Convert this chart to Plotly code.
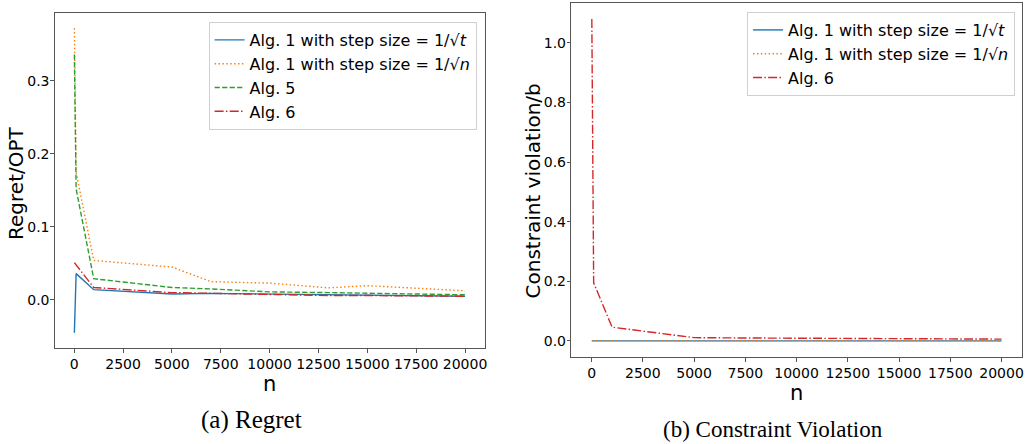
import plotly.graph_objects as go

# ---------------- data ----------------
n_vals = [10, 100, 1000, 5000, 7000, 10000, 13000, 15000, 20000]

# (a) Regret / OPT
regret_alg1_t = [-0.045, 0.036, 0.014, 0.008, 0.009, 0.008, 0.007, 0.006, 0.005]
regret_alg1_n = [0.372, 0.175, 0.054, 0.045, 0.025, 0.023, 0.0165, 0.0195, 0.0125]
regret_alg5 = [0.336, 0.152, 0.029, 0.017, 0.015, 0.011, 0.010, 0.009, 0.007]
regret_alg6 = [0.051, 0.048, 0.017, 0.010, 0.009, 0.007, 0.006, 0.006, 0.005]

# (b) Constraint violation / b
viol_alg1_t = [0, 0, 0, 0, 0, 0, 0, 0, 0]
viol_alg1_n = [0, 0, 0, 0, 0, 0, 0, 0, 0]
viol_alg6 = [1.08, 0.195, 0.046, 0.011, 0.010, 0.009, 0.008, 0.007, 0.006]

label_t = "Alg. 1 with step size = 1/√<i>t</i>"
label_n = "Alg. 1 with step size = 1/√<i>n</i>"
label_5 = "Alg. 5"
label_6 = "Alg. 6"
x_title = "n"
y_title_a = "Regret/OPT"
y_title_b = "Constraint violation/b"
caption_a = "(a) Regret"
caption_b = "(b) Constraint Violation"

# ---------------- style ----------------
BLUE, ORANGE, GREEN, RED = "#1f77b4", "#ff7f0e", "#2ca02c", "#d62728"
LW = 1.4
DOT = "1.5px,2.4px"
DASH = "5.2px,2.3px"
DASHDOT = "9px,2.3px,1.5px,2.3px"
W, H = 1031, 444


def rng(vals):
    mn, mx = min(vals), max(vals)
    pad = (mx - mn) * 0.05
    return [mn - pad, mx + pad]


fig = go.Figure()

left_series = [
    (regret_alg1_t, label_t, BLUE, "solid"),
    (regret_alg1_n, label_n, ORANGE, DOT),
    (regret_alg5, label_5, GREEN, DASH),
    (regret_alg6, label_6, RED, DASHDOT),
]
for ys, name, col, dash in left_series:
    fig.add_trace(go.Scatter(x=n_vals, y=ys, mode="lines", name=name,
                             line=dict(color=col, width=LW, dash=dash),
                             xaxis="x", yaxis="y", legend="legend"))

right_series = [
    (viol_alg1_t, label_t, BLUE, "solid"),
    (viol_alg1_n, label_n, ORANGE, DOT),
    (viol_alg6, label_6, RED, DASHDOT),
]
for ys, name, col, dash in right_series:
    fig.add_trace(go.Scatter(x=n_vals, y=ys, mode="lines", name=name,
                             line=dict(color=col, width=LW, dash=dash),
                             xaxis="x2", yaxis="y2", legend="legend2"))

all_left = regret_alg1_t + regret_alg1_n + regret_alg5 + regret_alg6
all_right = viol_alg1_t + viol_alg1_n + viol_alg6

tickfont = dict(family="DejaVu Sans", size=14, color="#000")
titlefont = dict(family="DejaVu Sans", size=21, color="#000")
ytitlefont = dict(family="DejaVu Sans", size=20, color="#000")

axis_common = dict(showline=True, mirror=True, linecolor="#555", linewidth=1,
                   ticks="outside", ticklen=3.5, tickcolor="#555", tickwidth=1,
                   showgrid=False, zeroline=False, tickfont=tickfont)

xr = rng(n_vals)

fig.update_layout(
    width=W, height=H,
    margin=dict(l=0, r=0, t=0, b=0),
    paper_bgcolor="white", plot_bgcolor="white",
    font=dict(family="DejaVu Sans", color="#000"),
    xaxis=dict(domain=[55 / W, 486 / W], anchor="y", range=xr,
               tick0=0, dtick=2500, tickformat="d",
               title=dict(text=x_title, font=titlefont, standoff=1), **axis_common),
    yaxis=dict(domain=[1 - 348 / H, 1 - 13 / H], anchor="x", range=rng(all_left),
               tick0=0, dtick=0.1, tickformat=".1f", ticklabelstandoff=-2,
               **axis_common),
    xaxis2=dict(domain=[573 / W, 1025 / W], anchor="y2", range=xr,
                tick0=0, dtick=2500, tickformat="d",
                title=dict(text=x_title, font=titlefont, standoff=0), **axis_common),
    yaxis2=dict(domain=[1 - 357 / H, 1 - 3 / H], anchor="x2", range=rng(all_right),
                tick0=0, dtick=0.2, tickformat=".1f", ticklabelstandoff=-2,
                **axis_common),
    legend=dict(x=478 / W, xanchor="right", y=1 - 22 / H, yanchor="top",
                bgcolor="rgba(255,255,255,0.85)", bordercolor="#d0d0d0", borderwidth=1,
                font=dict(family="DejaVu Sans", size=16, color="#000"),
                itemwidth=30, tracegroupgap=0),
    legend2=dict(x=1018 / W, xanchor="right", y=1 - 12 / H, yanchor="top",
                 bgcolor="rgba(255,255,255,0.85)", bordercolor="#d0d0d0", borderwidth=1,
                 font=dict(family="DejaVu Sans", size=16, color="#000"),
                 itemwidth=30, tracegroupgap=0),
    showlegend=True,
)

# y-axis titles
fig.add_annotation(text=y_title_a, xref="paper", yref="paper", x=16 / W, y=1 - 183 / H,
                   xanchor="center", yanchor="middle", textangle=-90, showarrow=False,
                   font=ytitlefont)
fig.add_annotation(text=y_title_b, xref="paper", yref="paper", x=535 / W, y=1 - 191 / H,
                   xanchor="center", yanchor="middle", textangle=-90, showarrow=False,
                   font=ytitlefont)

# captions
fig.add_annotation(text=caption_a, xref="paper", yref="paper", x=252 / W, y=1 - 420 / H,
                   xanchor="center", yanchor="middle", showarrow=False,
                   font=dict(family="Liberation Serif", size=25, color="#000"))
fig.add_annotation(text=caption_b, xref="paper", yref="paper", x=775 / W, y=1 - 429 / H,
                   xanchor="center", yanchor="middle", showarrow=False,
                   font=dict(family="Liberation Serif", size=23, color="#000"))

fig.write_html("out.html")
